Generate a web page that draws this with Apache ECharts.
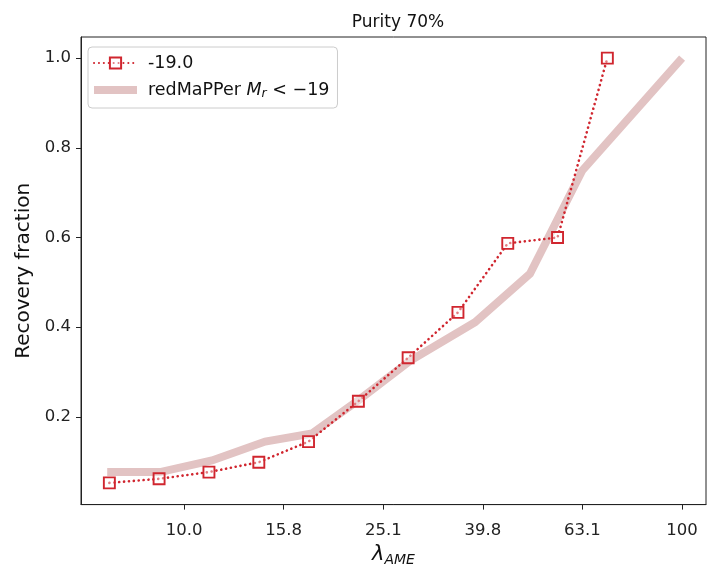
<!DOCTYPE html>
<html>
<head>
<meta charset="utf-8">
<script src="https://cdn.jsdelivr.net/npm/echarts@6/dist/echarts.min.js"></script>
<style>html,body{margin:0;padding:0;background:#fff;}#c{width:709px;height:572px;}</style>
</head>
<body>
<div id="c"></div>
<script>
// AME recovery fraction (-19.0)
const ameLambda = [7.08, 8.91, 11.22, 14.13, 17.78, 22.39, 28.18, 35.48, 44.67, 56.23, 70.79];
const ameFrac   = [0.053, 0.062, 0.077, 0.099, 0.145, 0.235, 0.332, 0.433, 0.587, 0.600, 1.0];
// redMaPPer Mr < -19
const rmLambda = [7.01, 8.95, 11.38, 14.55, 18.07, 22.57, 28.43, 38.4, 49.5, 63.0, 100.0];
const rmFrac   = [0.077, 0.077, 0.103, 0.145, 0.163, 0.240, 0.325, 0.411, 0.519, 0.749, 1.0];
// ticks
const xTickValues = [10, 15.85, 25.12, 39.81, 63.1, 100];
const xTickLabels = ['10.0', '15.8', '25.1', '39.8', '63.1', '100'];
const yTickValues = [0.2, 0.4, 0.6, 0.8, 1.0];
const yTickLabels = ['0.2', '0.4', '0.6', '0.8', '1.0'];

const FONT = 'DejaVu Sans';
const RED = '#d0262f';
const BAND = '#e2c3c3';
const chart = echarts.init(document.getElementById('c'), null, {renderer: 'canvas'});
chart.setOption({
  animation: false,
  backgroundColor: '#fff',
  title: {
    text: 'Purity 70%', left: 393, top: 9, textAlign: 'center',
    textStyle: {fontFamily: FONT, fontSize: 17, fontWeight: 'normal', color: '#111'}
  },
  grid: {left: 81, right: 3, top: 37, bottom: 60, show: true, borderColor: '#222', borderWidth: 1, backgroundColor: 'transparent'},
  legend: {
    orient: 'vertical', left: 88, top: 47,
    padding: [7, 8, 8, 5], itemGap: 9, itemWidth: 43, itemHeight: 14,
    backgroundColor: 'rgba(255,255,255,0.85)', borderColor: '#cccccc', borderWidth: 1, borderRadius: 4,
    textStyle: {fontFamily: FONT, fontSize: 17.5, color: '#111', padding: [0, 0, 0, 6],
      rich: {
        i: {fontFamily: FONT, fontSize: 17.5, fontStyle: 'italic', color: '#111'},
        sub: {fontFamily: FONT, fontSize: 12.5, fontStyle: 'italic', color: '#111', verticalAlign: 'bottom', padding: [7, 0, 0, 0]},
        t: {fontFamily: FONT, fontSize: 17.5, color: '#111'}
      }
    },
    formatter: function (name) {
      if (name === 'rm') return '{t|redMaPPer }{i|M}{sub|r}{t| < \u221219}';
      return name;
    },
    data: [
      {name: '-19.0'},
      {name: 'rm', icon: 'path://M0,0L43,0L43,8L0,8Z', itemStyle: {color: BAND, borderWidth: 0}}
    ]
  },
  xAxis: {
    type: 'log', logBase: 10, min: 6.21, max: 111.7,
    name: '{l|\u03bb}{s|AME}', nameLocation: 'middle', nameGap: 38,
    nameTextStyle: {rich: {
      l: {fontFamily: FONT, fontSize: 21, fontStyle: 'italic', color: '#111'},
      s: {fontFamily: FONT, fontSize: 14, fontStyle: 'italic', color: '#111', verticalAlign: 'bottom', padding: [10, 0, 0, 0]}
    }},
    axisLine: {show: true, lineStyle: {color: '#222', width: 1}},
    axisTick: {show: true, length: 5, inside: false, customValues: xTickValues, lineStyle: {color: '#222'}},
    axisLabel: {
      customValues: xTickValues, margin: 18, fontFamily: FONT, fontSize: 16.5, color: '#222',
      formatter: function (v) {
        let best = 0, d = Infinity;
        xTickValues.forEach((t, i) => { const dd = Math.abs(Math.log(t) - Math.log(v)); if (dd < d) { d = dd; best = i; } });
        return xTickLabels[best];
      }
    },
    splitLine: {show: false}, minorTick: {show: false}
  },
  yAxis: {
    type: 'value', min: 0.0045, max: 1.047,
    name: 'Recovery fraction', nameLocation: 'middle', nameGap: 45,
    nameTextStyle: {fontFamily: FONT, fontSize: 20, color: '#111'},
    axisLine: {show: true, lineStyle: {color: '#222', width: 1}},
    axisTick: {show: true, length: 5, inside: false, customValues: yTickValues, lineStyle: {color: '#222'}},
    axisLabel: {
      customValues: yTickValues, margin: 10, fontFamily: FONT, fontSize: 16.5, color: '#222',
      formatter: function (v) {
        let best = 0, d = Infinity;
        yTickValues.forEach((t, i) => { const dd = Math.abs(t - v); if (dd < d) { d = dd; best = i; } });
        return yTickLabels[best];
      }
    },
    splitLine: {show: false}
  },
  series: [
    {
      name: 'rm', type: 'line', z: 1,
      data: rmLambda.map((x, i) => [x, rmFrac[i]]),
      showSymbol: false, symbol: 'none',
      lineStyle: {color: BAND, width: 8, cap: 'butt', join: 'miter'},
      itemStyle: {color: BAND}
    },
    {
      name: '-19.0', type: 'line', z: 3,
      data: ameLambda.map((x, i) => [x, ameFrac[i]]),
      symbol: 'rect', symbolSize: 11, showSymbol: true,
      lineStyle: {color: RED, width: 2.6, type: [0.1, 4.8], cap: 'round'},
      itemStyle: {color: 'rgba(255,255,255,0.4)', borderColor: RED, borderWidth: 1.9}
    }
  ]
});
</script>
</body>
</html>
